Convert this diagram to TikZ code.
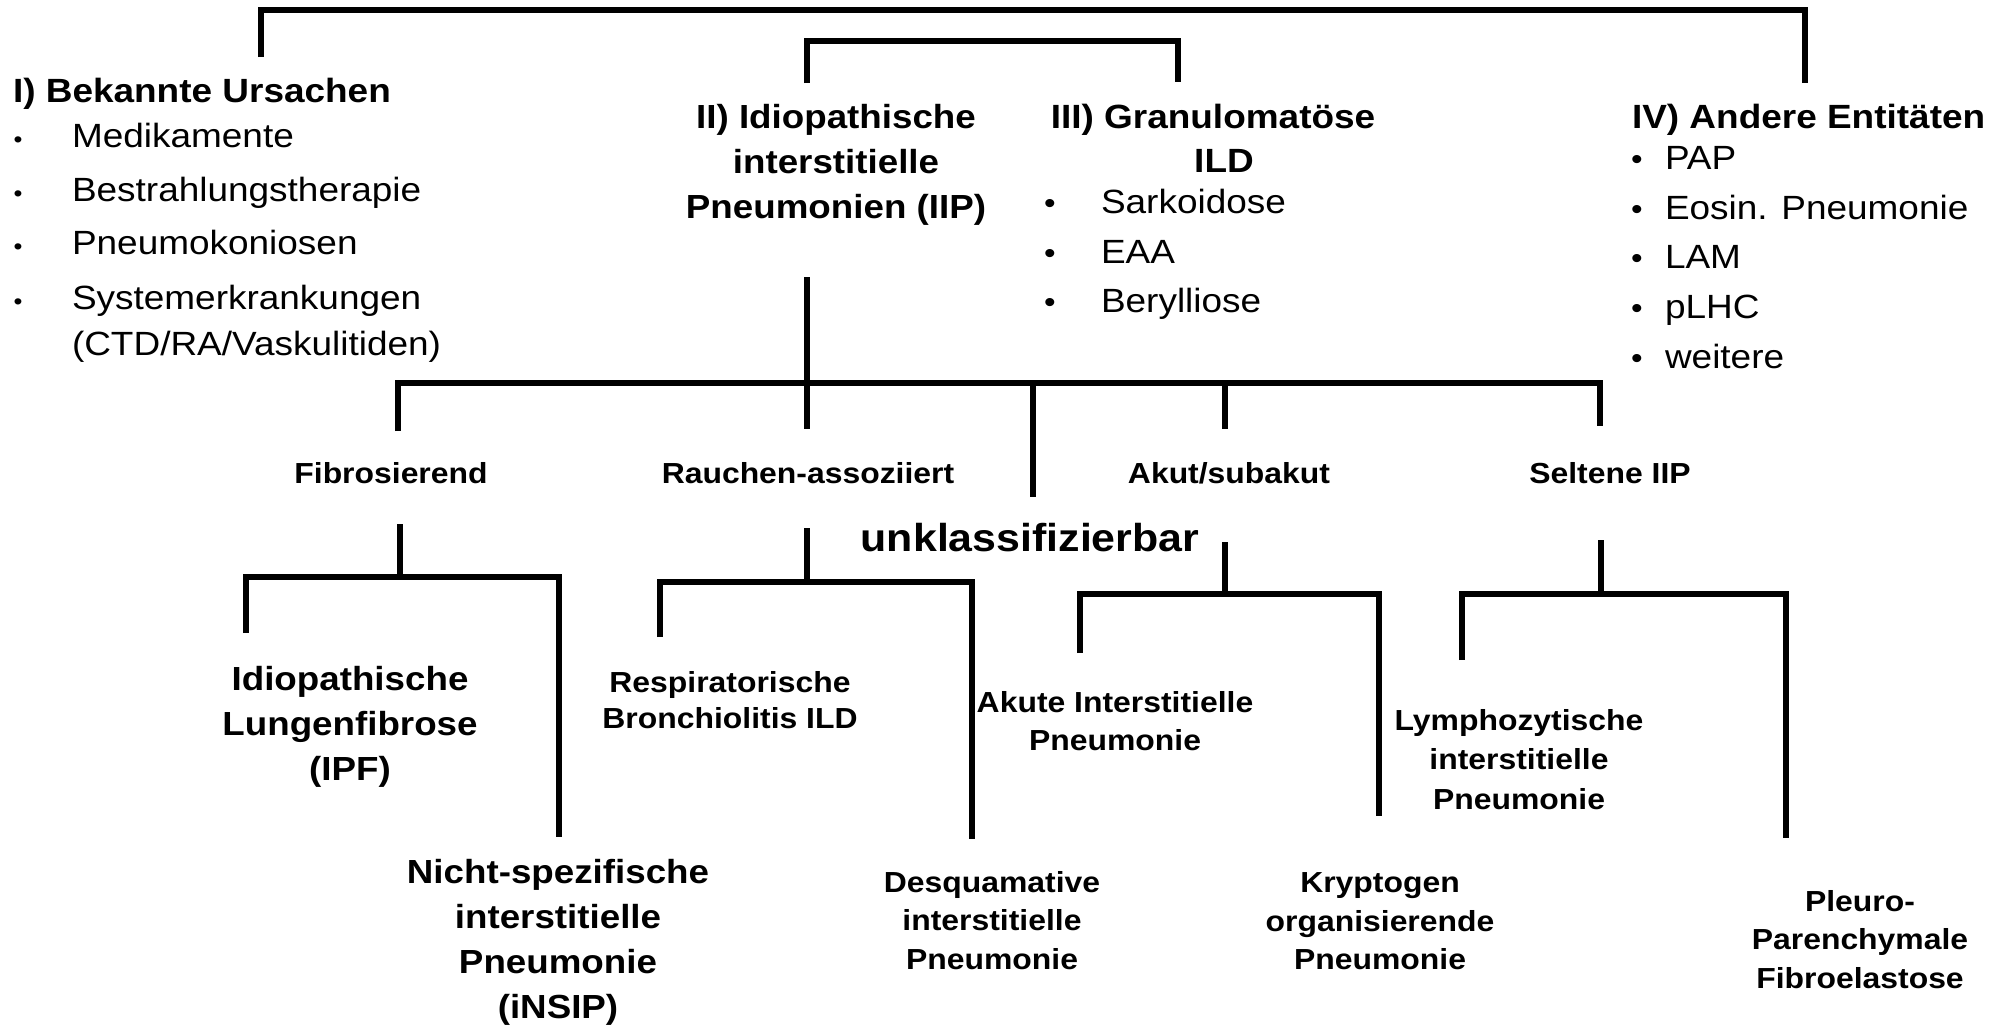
\documentclass[tikz,border=0pt]{standalone}
\usepackage{fontspec}
\setmainfont{Liberation Sans}[FakeStretch=1.1]
\tikzset{
  conn/.style={line width=5.5pt, line join=miter, black},
  txt/.style={inner sep=0pt, outer sep=0pt},
  hdr/.style={txt, font=\fontsize{33.6}{45}\selectfont\bfseries},
  item/.style={txt, font=\fontsize{33.6}{45}\selectfont},
  bul/.style={txt, font=\fontsize{30}{45}\selectfont},
  bulsmall/.style={txt, font=\fontsize{23}{45}\selectfont},
  cat/.style={txt, font=\fontsize{29}{38}\selectfont\bfseries},
  bigleaf/.style={txt, align=center, font=\fontsize{33.4}{45}\selectfont\bfseries},
  leaf/.style={txt, align=center, font=\fontsize{29}{38.5}\selectfont\bfseries},
  unk/.style={txt, font=\fontsize{39}{45}\selectfont\bfseries}
}
\begin{document}
\begin{tikzpicture}[x=1pt,y=-1pt]
\useasboundingbox[fill=white] (0,0) rectangle (1990,1026);

% ---------- top level texts ----------
\node (g1) [hdr, anchor=base west] at (13,102) {I) Bekannte Ursachen};
\node (b1a) [bulsmall, anchor=base] at (18,147) {•};
\node (b1b) [bulsmall, anchor=base] at (18,201) {•};
\node (b1c) [bulsmall, anchor=base] at (18,254) {•};
\node (b1d) [bulsmall, anchor=base] at (18,309) {•};
\node (i1a) [item, anchor=base west] at (72,147) {Medikamente};
\node (i1b) [item, anchor=base west] at (72,201) {Bestrahlungstherapie};
\node (i1c) [item, anchor=base west] at (72,254) {Pneumokoniosen};
\node (i1d) [item, anchor=base west] at (72,309) {Systemerkrankungen};
\node (i1e) [item, anchor=base west] at (72,355) {(CTD/RA/Vaskulitiden)};

\node (g2) [bigleaf, anchor=north] at (836,104) {II) Idiopathische\\interstitielle\\Pneumonien (IIP)};

\node (g3) [hdr, anchor=base] at (1213,128) {III) Granulomatöse};
\node (g3b) [hdr, anchor=base] at (1224,172) {ILD};
\node (b3a) [bul, anchor=base] at (1050,213) {•};
\node (b3b) [bul, anchor=base] at (1050,263) {•};
\node (b3c) [bul, anchor=base] at (1050,312) {•};
\node (i3a) [item, anchor=base west] at (1101,213) {Sarkoidose};
\node (i3b) [item, anchor=base west] at (1101,263) {EAA};
\node (i3c) [item, anchor=base west] at (1101,312) {Berylliose};

\node (g4) [hdr, anchor=base west] at (1632,128) {IV) Andere Entitäten};
\node (b4a) [bul, anchor=base] at (1637,169) {•};
\node (b4b) [bul, anchor=base] at (1637,219) {•};
\node (b4c) [bul, anchor=base] at (1637,268) {•};
\node (b4d) [bul, anchor=base] at (1637,318) {•};
\node (b4e) [bul, anchor=base] at (1637,368) {•};
\node (i4a) [item, anchor=base west] at (1665,169) {PAP};
\node (i4b) [item, anchor=base west] at (1665,219) {Eosin. Pneumonie};
\node (i4c) [item, anchor=base west] at (1665,268) {LAM};
\node (i4d) [item, anchor=base west] at (1665,318) {pLHC};
\node (i4e) [item, anchor=base west] at (1665,368) {weitere};

% ---------- categories ----------
\node (cf) [cat, anchor=base] at (391,483) {Fibrosierend};
\node (cr) [cat, anchor=base] at (808,483) {Rauchen-assoziiert};
\node (ca) [cat, anchor=base] at (1229,483) {Akut/subakut};
\node (cs) [cat, anchor=base] at (1610,483) {Seltene IIP};
\node (cu) [unk, anchor=base] at (1030,551) {unklassifizierbar};

% ---------- leaves ----------
\node (ipf) [bigleaf, anchor=north] at (350,666) {Idiopathische\\Lungenfibrose\\(IPF)};
\node (nsip) [bigleaf, anchor=north] at (558,859) {Nicht-spezifische\\interstitielle\\Pneumonie\\(iNSIP)};
\node (rb) [leaf, anchor=north, font=\fontsize{29}{36}\selectfont\bfseries] at (730,671) {Respiratorische\\Bronchiolitis ILD};
\node (dip) [leaf, anchor=north] at (992,871) {Desquamative\\interstitielle\\Pneumonie};
\node (aip) [leaf, anchor=north] at (1115,691) {Akute Interstitielle\\Pneumonie};
\node (cop) [leaf, anchor=north] at (1380,873) {Kryptogen\\organisierende\\Pneumonie};
\node (lip) [leaf, anchor=north, font=\fontsize{29}{39.5}\selectfont\bfseries] at (1519,709) {Lymphozytische\\interstitielle\\Pneumonie};
\node (ppfe) [leaf, anchor=north] at (1860,890) {Pleuro-\\Parenchymale\\Fibroelastose};

% ---------- connector coordinates ----------
\coordinate (t1) at (261,57);   \coordinate (t2) at (261,10);
\coordinate (t3) at (1805,10);  \coordinate (t4) at (1805,83);
\coordinate (s1) at (807,83);   \coordinate (s2) at (807,41);
\coordinate (s3) at (1178,41);  \coordinate (s4) at (1178,82);
\coordinate (p1) at (807,277);  \coordinate (p2) at (807,383);
\coordinate (m1) at (398,431);  \coordinate (m2) at (398,383);
\coordinate (m3) at (1600,383); \coordinate (m4) at (1600,426);
\coordinate (d2) at (807,429);
\coordinate (d3a) at (1033,383); \coordinate (d3) at (1033,497);
\coordinate (d4a) at (1225,383); \coordinate (d4) at (1225,429);
% Fibrosierend
\coordinate (f0) at (400,524); \coordinate (f1) at (400,577);
\coordinate (fl) at (246,633); \coordinate (flt) at (246,577);
\coordinate (frt) at (559,577); \coordinate (fr) at (559,837);
% Rauchen
\coordinate (r0) at (807,528); \coordinate (r1) at (807,582);
\coordinate (rl) at (660,637); \coordinate (rlt) at (660,582);
\coordinate (rrt) at (972,582); \coordinate (rr) at (972,839);
% Akut
\coordinate (a0) at (1225,542); \coordinate (a1) at (1225,594);
\coordinate (al) at (1080,653); \coordinate (alt) at (1080,594);
\coordinate (art) at (1379,594); \coordinate (ar) at (1379,816);
% Seltene
\coordinate (e0) at (1601,540); \coordinate (e1) at (1601,594);
\coordinate (el) at (1462,660); \coordinate (elt) at (1462,594);
\coordinate (ert) at (1786,594); \coordinate (er) at (1786,838);

% ---------- connectors ----------
\draw[conn] (t1) -- (t2) -- (t3) -- (t4);
\draw[conn] (s1) -- (s2) -- (s3) -- (s4);
\draw[conn] (p1) -- (p2);
\draw[conn] (m1) -- (m2) -- (m3) -- (m4);
\draw[conn] (p2) -- (d2);
\draw[conn] (d3a) -- (d3);
\draw[conn] (d4a) -- (d4);
\draw[conn] (f0) -- (f1);
\draw[conn] (fl) -- (flt) -- (frt) -- (fr);
\draw[conn] (r0) -- (r1);
\draw[conn] (rl) -- (rlt) -- (rrt) -- (rr);
\draw[conn] (a0) -- (a1);
\draw[conn] (al) -- (alt) -- (art) -- (ar);
\draw[conn] (e0) -- (e1);
\draw[conn] (el) -- (elt) -- (ert) -- (er);
\end{tikzpicture}
\end{document}
